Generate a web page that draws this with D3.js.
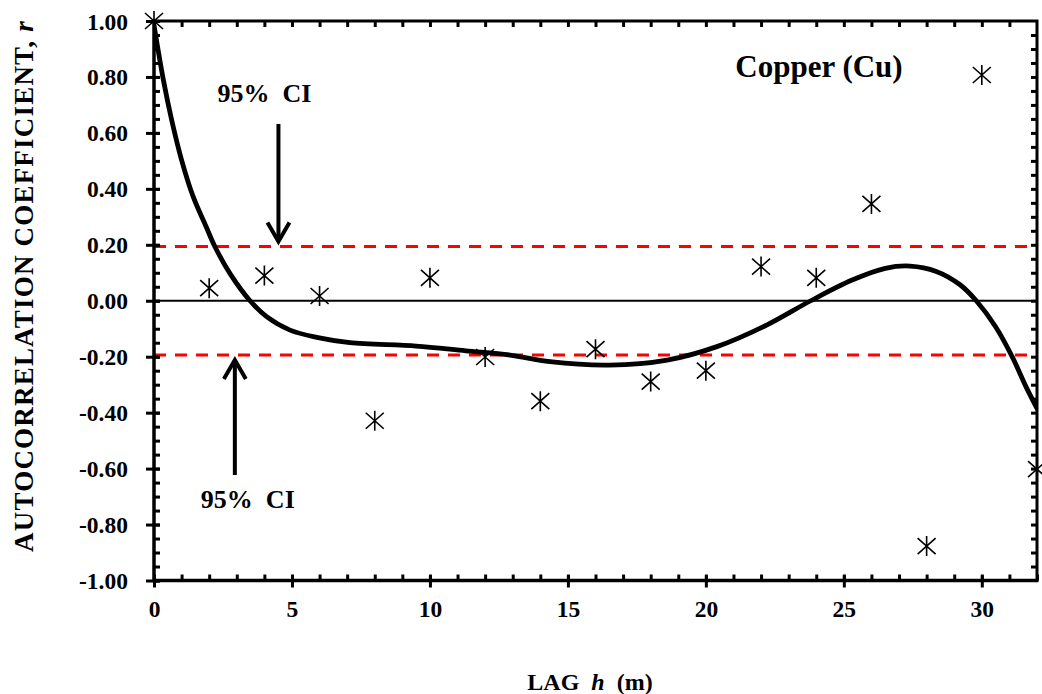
<!DOCTYPE html>
<html>
<head>
<meta charset="utf-8">
<script src="https://cdn.jsdelivr.net/npm/d3@7"></script>
<style>
  html, body { margin: 0; padding: 0; background: #fff; }
  svg { display: block; }
  text { font-family: "Liberation Serif", "Times New Roman", serif; font-weight: bold; fill: #000; }
</style>
</head>
<body>
<svg id="chart" width="1042" height="694"></svg>
<script>
// Sample autocorrelation of copper concentration by lag
const lags = [0, 2, 4, 6, 8, 10, 12, 14, 16, 18, 20, 22, 24, 26, 28, 30, 32];
const rValues = [1.00, 0.045, 0.09, 0.017, -0.429, 0.082, -0.201, -0.359, -0.173, -0.289, -0.250, 0.122, 0.082, 0.346, -0.877, 0.807, -0.602];

// Fitted trend curve, sampled along the lag axis
const trendLag = [0, 0.34, 0.64, 1.0, 1.42, 1.91, 2.21, 2.75, 3.48, 4.08, 4.93, 5.9, 7.1, 9.5, 11.3, 12.9, 14.35, 16.5, 18.6, 20.4, 22.2, 23.8, 25.3, 26.5, 27.4, 28.35, 29.2, 29.8, 30.5, 31.1, 31.6, 32];
const trendR = [0.985, 0.789, 0.646, 0.503, 0.372, 0.26, 0.193, 0.098, 0.0, -0.057, -0.105, -0.131, -0.150, -0.162, -0.179, -0.194, -0.218, -0.230, -0.212, -0.164, -0.087, 0.0, 0.074, 0.116, 0.124, 0.105, 0.058, 0.0, -0.093, -0.200, -0.307, -0.385];

// 95% confidence limits
const ciLimit = 0.194;

// Axis ticks
const xMajorTicks = [0, 5, 10, 15, 20, 25, 30];
const yMajorTicks = [1.0, 0.8, 0.6, 0.4, 0.2, 0.0, -0.2, -0.4, -0.6, -0.8, -1.0];

const svg = d3.select("#chart");
const plotLeft = 154, plotRight = 1037, plotTop = 21, plotBottom = 580.5;

const x = d3.scaleLinear().domain([0, 32]).range([plotLeft, plotRight]);
const y = d3.scaleLinear().domain([-1, 1]).range([plotBottom, plotTop]);

const fmt = v => (Math.abs(v) < 1e-9 ? 0 : v).toFixed(2);

svg.append("clipPath").attr("id", "plot-clip")
  .append("rect").attr("x", plotLeft).attr("y", plotTop)
  .attr("width", plotRight - plotLeft).attr("height", plotBottom - plotTop);

// Confidence limit lines
svg.append("g").selectAll("line").data([ciLimit, -ciLimit]).join("line")
  .attr("x1", x(0)).attr("x2", x(32))
  .attr("y1", d => y(d)).attr("y2", d => y(d))
  .attr("stroke", "#ff0000").attr("stroke-width", 3)
  .attr("stroke-dasharray", "12,9");

// Zero line
svg.append("line")
  .attr("x1", x(0)).attr("x2", x(32)).attr("y1", y(0)).attr("y2", y(0))
  .attr("stroke", "#000").attr("stroke-width", 2);

// Trend curve
const trendLine = d3.line()
  .x((d, i) => x(trendLag[i]))
  .y(d => y(d))
  .curve(d3.curveCatmullRom.alpha(0.5));
svg.append("path")
  .attr("clip-path", "url(#plot-clip)")
  .attr("d", trendLine(trendR))
  .attr("fill", "none").attr("stroke", "#000").attr("stroke-width", 4.8)
  .attr("stroke-linecap", "round");

// Asterisk markers
const star = "M-9,-8L9,8M-9,8L9,-8M0,-10L0,10";
svg.append("g").selectAll("path").data(rValues).join("path")
  .attr("transform", (d, i) => `translate(${x(lags[i])},${y(d)})`)
  .attr("d", star)
  .attr("fill", "none").attr("stroke", "#000").attr("stroke-width", 1.6);

// Frame: top and right borders with inward ticks
svg.append("path")
  .attr("d", `M${plotLeft},${plotTop}H${plotRight}V${plotBottom}`)
  .attr("fill", "none").attr("stroke", "#000").attr("stroke-width", 3);

const topAxis = d3.axisTop(x).tickValues(d3.range(1, 32)).tickSize(-6).tickFormat("");
const gTop = svg.append("g").attr("transform", `translate(0,${plotTop})`).call(topAxis);
gTop.select(".domain").remove();
gTop.selectAll(".tick line").attr("stroke-width", 3);

const rightMinor = d3.axisRight(y).tickValues(d3.range(-19, 20).map(k => k * 0.05)).tickSize(-6).tickFormat("");
const gRight = svg.append("g").attr("transform", `translate(${plotRight},0)`).call(rightMinor);
gRight.select(".domain").remove();
gRight.selectAll(".tick line").attr("stroke-width", 3);

// Left axis: minor ticks inside, major ticks crossing
const leftMinor = d3.axisLeft(y).tickValues(d3.range(-20, 21).map(k => k * 0.05)).tickSize(-6).tickFormat("");
const gLeftMinor = svg.append("g").attr("transform", `translate(${plotLeft},0)`).call(leftMinor);
gLeftMinor.select(".domain").remove();
gLeftMinor.selectAll(".tick line").attr("stroke-width", 3);

const leftAxis = d3.axisLeft(y).tickValues(yMajorTicks).tickSize(8).tickPadding(18).tickFormat(fmt);
const gLeft = svg.append("g").attr("transform", `translate(${plotLeft},0)`).call(leftAxis);
gLeft.select(".domain").attr("stroke-width", 3.5).attr("d", `M0,${plotTop - 1.5}V${plotBottom + 1.5}`);
gLeft.selectAll(".tick line").attr("stroke-width", 3).attr("x1", 6);
gLeft.selectAll(".tick text")
  .style("font-family", '"Liberation Serif", serif').style("font-weight", "bold")
  .style("font-size", "23.5px").attr("dy", "0.34em");

// Bottom axis: minor ticks inside, major ticks crossing
const bottomMinor = d3.axisBottom(x).tickValues(d3.range(0, 33)).tickSize(-6).tickFormat("");
const gBotMinor = svg.append("g").attr("transform", `translate(0,${plotBottom})`).call(bottomMinor);
gBotMinor.select(".domain").remove();
gBotMinor.selectAll(".tick line").attr("stroke-width", 3);

const bottomAxis = d3.axisBottom(x).tickValues(xMajorTicks).tickSize(7).tickPadding(13).tickFormat(d3.format("d"));
const gBot = svg.append("g").attr("transform", `translate(0,${plotBottom})`).call(bottomAxis);
gBot.select(".domain").attr("stroke-width", 3.5).attr("d", `M${plotLeft - 1.5},0H${plotRight + 1.5}`);
gBot.selectAll(".tick line").attr("stroke-width", 3).attr("y1", -5);
gBot.selectAll(".tick text")
  .style("font-family", '"Liberation Serif", serif').style("font-weight", "bold")
  .style("font-size", "23.5px");

// Axis titles
svg.append("text")
  .attr("transform", "translate(33,286) rotate(-90)")
  .attr("text-anchor", "middle")
  .style("font-size", "27px")
  .style("letter-spacing", "1.2px")
  .html('AUTOCORRELATION COEFFICIENT, <tspan font-style="italic">r</tspan>');

svg.append("text")
  .attr("x", 590).attr("y", 690)
  .attr("text-anchor", "middle")
  .style("font-size", "24px")
  .style("white-space", "pre")
  .html('LAG  <tspan font-style="italic">h</tspan>  (m)');

// Series label
svg.append("text")
  .attr("x", 819).attr("y", 77)
  .attr("text-anchor", "middle")
  .style("font-size", "31px")
  .text("Copper (Cu)");

// Confidence-limit annotations with arrows
const arrows = [
  { lag: 4.51, from: 0.632, to: ciLimit + 0.018, label: 0.71, labelLag: 4.0 },
  { lag: 2.93, from: -0.623, to: -ciLimit - 0.018, label: -0.74, labelLag: 3.4 }
];
arrows.forEach(a => {
  const g = svg.append("g").attr("stroke", "#000").attr("stroke-width", 4).attr("fill", "none");
  const x0 = x(a.lag), y0 = y(a.from), y1 = y(a.to);
  const dir = y1 > y0 ? 1 : -1;
  g.append("line").attr("x1", x0).attr("x2", x0).attr("y1", y0).attr("y2", y1 - dir * 1.5);
  g.append("path")
    .attr("d", `M${x0 - 11},${y1 - dir * 19}L${x0},${y1}L${x0 + 11},${y1 - dir * 19}`)
    .attr("stroke-linejoin", "miter");
  svg.append("text")
    .attr("x", x(a.labelLag)).attr("y", y(a.label))
    .attr("text-anchor", "middle")
    .style("font-size", "26px")
    .style("white-space", "pre")
    .text("95%  CI");
});
</script>
</body>
</html>
